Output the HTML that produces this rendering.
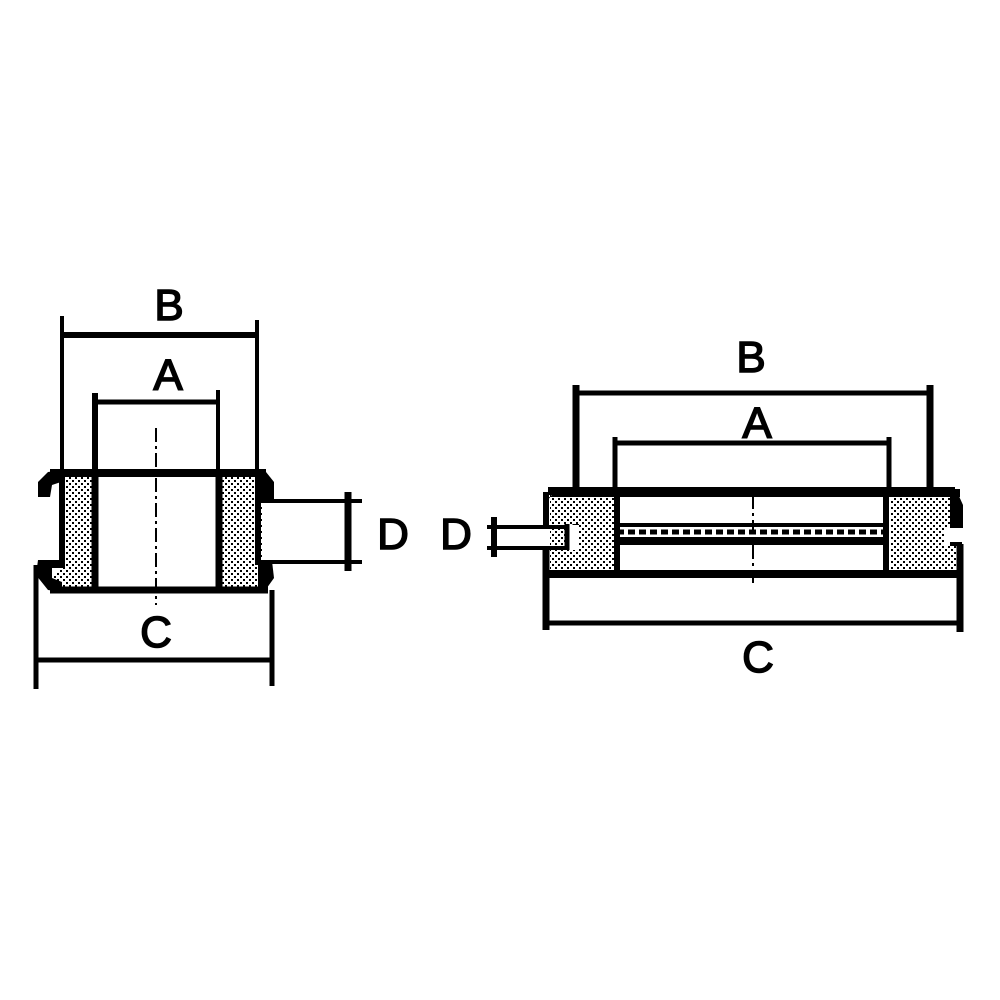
<!DOCTYPE html>
<html><head><meta charset="utf-8"><style>
html,body{margin:0;padding:0;background:#fff;width:1000px;height:1000px;overflow:hidden}
svg{display:block}
text{font-family:"Liberation Sans",sans-serif;font-size:44px;fill:#000;text-anchor:middle;stroke:#000;stroke-width:1.5px}
</style></head><body>
<svg width="1000" height="1000" viewBox="0 0 1000 1000" xmlns="http://www.w3.org/2000/svg">
<defs>
<pattern id="h" width="6" height="6" patternUnits="userSpaceOnUse">
<rect width="6" height="6" fill="#fff"/>
<rect x="0" y="0" width="2" height="2" fill="#000"/>
<rect x="3" y="3" width="2" height="2" fill="#000"/>
</pattern>
</defs>
<g stroke="#000" fill="none" stroke-linecap="butt">
<!-- LEFT DRAWING -->
<text x="169" y="320">B</text>
<line x1="62" y1="335" x2="256" y2="335" stroke-width="6"/>
<line x1="62" y1="316" x2="62" y2="472" stroke-width="4"/>
<line x1="257" y1="320" x2="257" y2="472" stroke-width="4"/>
<text x="168" y="390">A</text>
<line x1="95" y1="402" x2="217" y2="402" stroke-width="5"/>
<line x1="95" y1="393" x2="95" y2="472" stroke-width="6"/>
<line x1="218" y1="390" x2="218" y2="472" stroke-width="4"/>
<path d="M62,477 L93,477 L93,588 L58,588 L48,580 L62,566 Z" fill="url(#h)" stroke="none"/>
<path d="M221,477 L256,477 L256,500 L262,500 L262,562 L270,572 L262,588 L221,588 Z" fill="url(#h)" stroke="none"/>
<line x1="50" y1="473" x2="266" y2="473" stroke-width="8"/>
<line x1="95" y1="473" x2="95" y2="590" stroke-width="7"/>
<line x1="219" y1="473" x2="219" y2="590" stroke-width="7"/>
<line x1="62" y1="476" x2="62" y2="568" stroke-width="6"/>
<line x1="258" y1="475" x2="258" y2="565" stroke-width="6"/>
<path d="M64,470 L48,472 L38,482 L38,497 L50,497 L52,485 L64,481 Z" fill="#000" stroke="none"/>
<path d="M64,560 L38,560 L36,575 L48,590 L62,592 L62,582 L52,578 L52,568 L64,568 Z" fill="#000" stroke="none"/>
<path d="M258,470 L266,472 L274,482 L274,500 L258,500 Z" fill="#000" stroke="none"/>
<path d="M258,561 L272,561 L274,578 L264,592 L258,592 Z" fill="#000" stroke="none"/>
<line x1="50" y1="590" x2="268" y2="590" stroke-width="7"/>
<line x1="156" y1="428" x2="156" y2="605" stroke-width="2" stroke-dasharray="14,4,3,4"/>
<line x1="258" y1="501" x2="362" y2="501" stroke-width="4"/>
<line x1="258" y1="562" x2="362" y2="562" stroke-width="4"/>
<line x1="348" y1="492" x2="348" y2="571" stroke-width="7"/>
<text x="393" y="549">D</text>
<line x1="36" y1="565" x2="36" y2="689" stroke-width="5"/>
<line x1="272" y1="590" x2="272" y2="686" stroke-width="5"/>
<line x1="36" y1="660" x2="272" y2="660" stroke-width="5"/>
<text x="156" y="647">C</text>

<!-- RIGHT DRAWING -->
<text x="751" y="372">B</text>
<line x1="576" y1="393" x2="930" y2="393" stroke-width="5"/>
<line x1="576" y1="385" x2="576" y2="525" stroke-width="7"/>
<line x1="930" y1="385" x2="930" y2="490" stroke-width="7"/>
<text x="757" y="438">A</text>
<line x1="615" y1="443" x2="890" y2="443" stroke-width="5"/>
<line x1="615" y1="437" x2="615" y2="490" stroke-width="5"/>
<line x1="889" y1="437" x2="889" y2="490" stroke-width="5"/>
<path d="M550,495 L579,495 L579,524 L567,524 L567,550 L550,550 Z" fill="url(#h)" stroke="none"/>
<path d="M579,495 L614,495 L614,573 L550,573 L550,550 L579,550 Z" fill="url(#h)" stroke="none"/>
<path d="M890,495 L955,495 L955,528 L945,528 L945,545 L958,545 L958,573 L890,573 Z" fill="url(#h)" stroke="none"/>
<path d="M548,500 L556,489 L960,489 L960,497 L548,497 Z" fill="#000" stroke="none"/>
<line x1="548" y1="491" x2="955" y2="491" stroke-width="8"/>
<path d="M950,489 L958,494 L963,505 L963,528 L950,528 Z" fill="#000" stroke="none"/>
<line x1="546" y1="492" x2="546" y2="527" stroke-width="6"/>
<line x1="617" y1="491" x2="617" y2="573" stroke-width="6"/>
<line x1="886" y1="491" x2="886" y2="573" stroke-width="6"/>
<line x1="617" y1="525" x2="886" y2="525" stroke-width="4"/>
<line x1="617" y1="532" x2="886" y2="532" stroke-width="5" stroke-dasharray="7,4"/>
<line x1="617" y1="541" x2="886" y2="541" stroke-width="8"/>
<line x1="567" y1="524" x2="567" y2="550" stroke-width="5"/>
<line x1="950" y1="544" x2="962" y2="544" stroke-width="4"/>
<line x1="753" y1="495" x2="753" y2="583" stroke-width="2" stroke-dasharray="14,4,3,4"/>
<line x1="487" y1="527" x2="567" y2="527" stroke-width="4"/>
<line x1="487" y1="548" x2="567" y2="548" stroke-width="4"/>
<line x1="494" y1="517" x2="494" y2="557" stroke-width="6"/>
<text x="456" y="549">D</text>
<line x1="543" y1="574" x2="962" y2="574" stroke-width="8"/>
<line x1="546" y1="548" x2="546" y2="630" stroke-width="7"/>
<line x1="960" y1="544" x2="960" y2="632" stroke-width="7"/>
<line x1="546" y1="623" x2="960" y2="623" stroke-width="5"/>
<text x="758" y="672">C</text>
</g>
</svg>
</body></html>
